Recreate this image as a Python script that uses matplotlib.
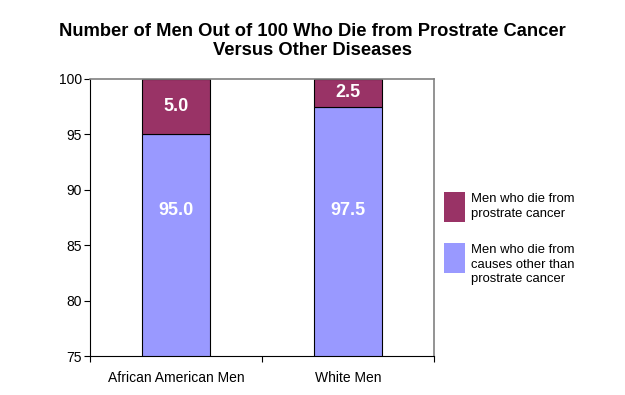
import matplotlib

matplotlib.use("Agg")
import matplotlib.pyplot as plt
from matplotlib.patches import Rectangle

plt.rcParams["font.family"] = ["Liberation Sans", "DejaVu Sans"]

categories = ["African American Men", "White Men"]
other_causes = [95.0, 97.5]
prostate = [5.0, 2.5]
legend_labels = ["Men who die from\nprostrate cancer",
                 "Men who die from\ncauses other than\nprostrate cancer"]
title = "Number of Men Out of 100 Who Die from Prostrate Cancer\nVersus Other Diseases"

C_PROS = "#993366"
C_OTHER = "#9999FF"
W, H = 625, 395

fig = plt.figure(figsize=(W / 100, H / 100), dpi=100)
ax = fig.add_axes([90 / W, 1 - 356 / H, 344 / W, 277 / H])

x = range(len(categories))
ax.bar(x, other_causes, width=0.4, color=C_OTHER, edgecolor="black", lw=0.8)
ax.bar(x, prostate, width=0.4, bottom=other_causes, color=C_PROS, edgecolor="black", lw=0.8)

# excel puts the big-segment labels at the same height for both bars
for i in x:
    ax.text(i, 88.1, f"{other_causes[i]:.1f}", ha="center", va="center",
            color="white", fontsize=13, fontweight="bold")
    ax.text(i, other_causes[i] + prostate[i] / 2, f"{prostate[i]:.1f}", ha="center", va="center",
            color="white", fontsize=13, fontweight="bold")

ax.set_xlim(-0.5, 1.5)
ax.set_ylim(75, 100)
ax.set_yticks([75, 80, 85, 90, 95, 100])
ax.set_xticks([-0.5, 0.5, 1.5])
ax.set_xticklabels([])
ax.set_xticks(list(x), minor=True)
ax.set_xticklabels(categories, minor=True)
ax.tick_params(axis="x", which="minor", length=0, labelsize=10, pad=11)
ax.tick_params(axis="x", which="major", length=4, direction="out")
ax.tick_params(axis="y", length=4, direction="out", labelsize=10, pad=2)
for s in ["left", "bottom"]:
    ax.spines[s].set_color("black")
for s in ["top", "right"]:
    ax.spines[s].set_color("#808080")
    ax.spines[s].set_linewidth(1.2)

fig.text(0.5, 1 - 41 / H, title, ha="center", va="center", fontsize=13.2, fontweight="bold",
         linespacing=1.12)

# legend drawn by hand so the swatch lines up with the first text lines, as in excel
for top, col, lab in zip([192, 243], [C_PROS, C_OTHER], legend_labels):
    fig.add_artist(Rectangle((444 / W, 1 - (top + 30) / H), 21 / W, 30 / H,
                             transform=fig.transFigure, facecolor=col, edgecolor="none"))
    fig.text(471 / W, 1 - (top + 1) / H, lab, ha="left", va="top", fontsize=9.4, linespacing=1.3)

fig.savefig("out.png", dpi=100)
